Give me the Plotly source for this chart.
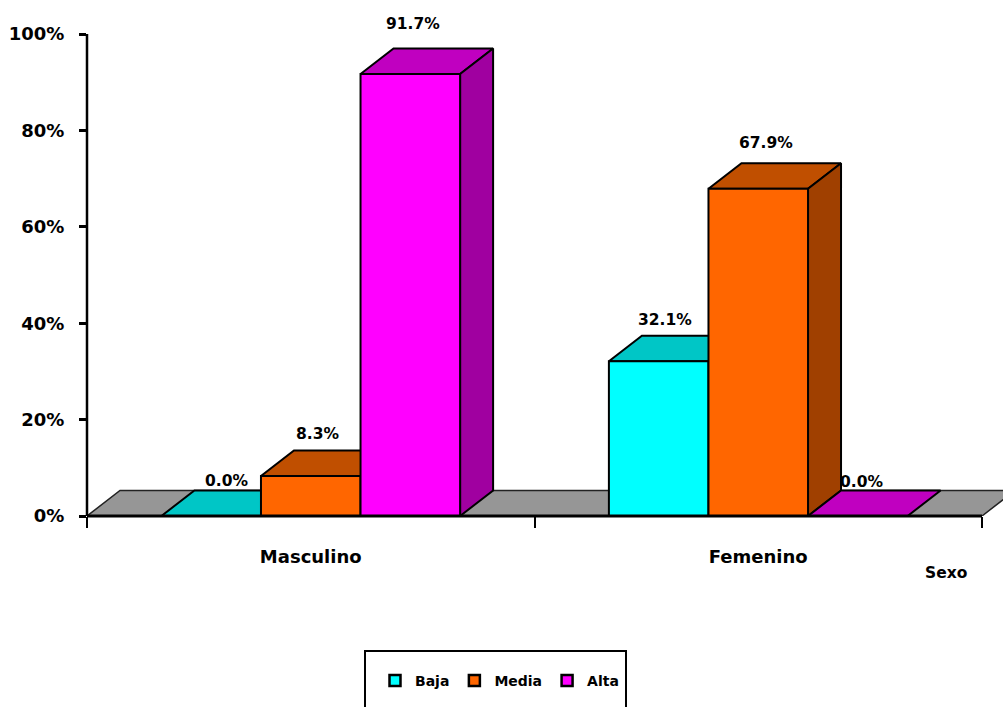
import plotly.graph_objects as go

categories = ["Masculino", "Femenino"]
series_names = ["Baja", "Media", "Alta"]
baja = [0.0, 32.1]
media = [8.3, 67.9]
alta = [91.7, 0.0]
y_ticks = [0, 20, 40, 60, 80, 100]

# styles
front = ["#00FFFF", "#FF6600", "#FF00FF"]
top = ["#00C6C6", "#C04F00", "#C000C0"]
side = ["#009C9C", "#A04000", "#A000A0"]
floor_color = "#969696"
FONT = "DejaVu Sans"

FIG_W, FIG_H = 1003, 707
# pixel geometry of the plot
L, R, Y0, Y100 = 87, 982, 516, 34
PX_PER_CAT = (R - L) / 2
PX_PER_PCT = (Y0 - Y100) / 100
DX = 33 / PX_PER_CAT      # depth in x units
DY = 25.5 / PX_PER_PCT    # depth in y units
BAR_W = 0.2225
GAP = (1 - 3 * BAR_W) / 2


def px(v):   # window x pixel -> paper
    return (v - L) / (FIG_W - L)


def py(v):   # window y pixel -> paper
    return (Y0 - v) / Y0


fig = go.Figure()


def poly(xs, ys, color, lw=2, lc="#000000"):
    fig.add_trace(go.Scatter(
        x=xs + xs[:1], y=ys + ys[:1], mode="lines", fill="toself",
        fillcolor=color, line=dict(color=lc, width=lw),
        hoverinfo="skip", showlegend=False))


# floor
poly([0, 2, 2 + DX, DX], [0, 0, DY, DY], floor_color, 1.5, "#222222")

values = [baja, media, alta]
label_dx = [[15, 6], [7, 8], [3, 4]]
label_dy = [[35, 41], [42, 46], [50, 34]]
annotations = []
for c in range(len(categories)):
    for s in range(len(series_names)):
        x0 = c + GAP + s * BAR_W
        x1 = x0 + BAR_W
        v = values[s][c]
        poly([x0, x1, x1 + DX, x0 + DX], [v, v, v + DY, v + DY], top[s])
        if v > 0:
            poly([x1, x1 + DX, x1 + DX, x1], [0, DY, v + DY, v], side[s])
            poly([x0, x1, x1, x0], [0, 0, v, v], front[s])
        annotations.append(dict(
            x=(x0 + x1) / 2, y=v, xref="x", yref="y",
            text=f"{v:.1f}%", showarrow=False, xanchor="center", yanchor="middle",
            xshift=label_dx[s][c], yshift=label_dy[s][c],
            font=dict(family=FONT, size=15.5, color="#000000", weight="bold")))

# legend entries
for s, name in enumerate(series_names):
    fig.add_trace(go.Scatter(
        x=[None], y=[None], mode="markers", name=name,
        marker=dict(symbol="square", size=11, color=front[s],
                    line=dict(color="#000000", width=2.5))))

annotations.append(dict(
    x=px(946), y=py(573), xref="paper", yref="paper", text="Sexo", showarrow=False,
    xanchor="center", yanchor="middle",
    font=dict(family=FONT, size=15.5, color="#000000", weight="bold")))

shapes = [
    dict(type="line", xref="paper", yref="y", x0=0, x1=0, y0=0, y1=100,
         line=dict(color="#000000", width=2.5), layer="above"),
    dict(type="line", xref="x", yref="paper", x0=0, x1=2, y0=0, y1=0,
         line=dict(color="#000000", width=3), layer="above"),
    dict(type="rect", xref="paper", yref="paper",
         x0=px(365), x1=px(626), y0=py(720), y1=py(651),
         line=dict(color="#000000", width=2), fillcolor="rgba(0,0,0,0)"),
]

fig.update_layout(
    width=FIG_W, height=FIG_H,
    margin=dict(l=L, r=0, t=0, b=FIG_H - Y0, pad=0),
    paper_bgcolor="#FFFFFF", plot_bgcolor="#FFFFFF",
    showlegend=True,
    legend=dict(
        orientation="h", xref="paper", yref="paper",
        x=px(375), xanchor="left",
        y=py(681), yanchor="middle",
        itemwidth=30, traceorder="normal", bgcolor="rgba(0,0,0,0)",
        font=dict(family=FONT, size=14, color="#000000", weight="bold")),
    xaxis=dict(
        range=[0, (FIG_W - L) / PX_PER_CAT], showgrid=False, zeroline=False, showline=False,
        tickmode="array", tickvals=[0.5, 1.5], ticktext=categories, ticks="",
        ticklabelstandoff=28,
        tickfont=dict(family=FONT, size=18, color="#000000", weight="bold"),
        minor=dict(tickmode="array", tickvals=[0, 1, 2], ticks="outside", ticklen=11,
                   tickwidth=2, tickcolor="#000000", showgrid=False),
    ),
    yaxis=dict(
        range=[0, Y0 / PX_PER_PCT], showgrid=False, zeroline=False, showline=False,
        tickmode="array", tickvals=y_ticks, ticktext=[f"{v}%" for v in y_ticks],
        ticks="outside", ticklen=7, tickwidth=2.5, tickcolor="#000000",
        ticklabelstandoff=11,
        tickfont=dict(family=FONT, size=18, color="#000000", weight="bold"),
    ),
    annotations=annotations,
    shapes=shapes,
)

fig.write_html(
    "out.html",
    config={"displayModeBar": False},
    post_script="document.body.style.margin='0';document.documentElement.style.overflow='hidden';",
)
